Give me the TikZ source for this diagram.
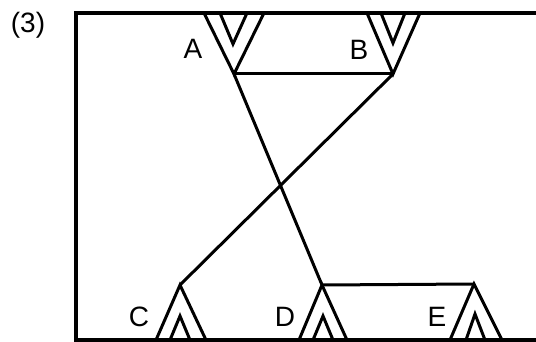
\documentclass[tikz,border=0pt]{standalone}
\usepackage{fontspec}
\setmainfont{Liberation Sans}
\usetikzlibrary{positioning}
\tikzset{
  frame/.style={line width=3.5pt},
  wedge/.style={line width=3pt, line join=miter},
  link/.style={line width=3pt},
  lbl/.style={font=\fontsize{28}{30}\selectfont, inner sep=0pt},
}

\begin{document}
\begin{tikzpicture}[x=1pt, y=-1pt]
  \useasboundingbox (0,0) rectangle (536,342);
  \node[lbl] (num) at (28,25) {(3)};
  \draw[frame] (536,13) -- (76,13) -- (76,340) -- (536,340);
  % apex points
  \coordinate (a) at (234,74);
  \coordinate (b) at (393,74);
  \coordinate (c) at (180,285);
  \coordinate (d) at (322,285);
  \coordinate (e) at (474,284);
  % top wedges
  \draw[wedge] (204,13) -- (a) -- (264,13);
  \draw[wedge] (220,13) -- (233,44) -- (247,13);
  \draw[wedge] (367,13) -- (b) -- (420,13);
  \draw[wedge] (381,13) -- (393,43) -- (405,13);
  % bottom wedges
  \draw[wedge] (156,340) -- (c) -- (206,340);
  \draw[wedge] (170,340) -- (180,316) -- (190,340);
  \draw[wedge] (299,340) -- (d) -- (347,340);
  \draw[wedge] (313,340) -- (323,316) -- (333,340);
  \draw[wedge] (450,340) -- (e) -- (502,340);
  \draw[wedge] (466,340) -- (475,314) -- (485,340);
  % links
  \draw[link] (a) -- (b);
  \draw[link] (d) -- (e);
  \draw[link] (a) -- (d);
  \draw[link] (b) -- (c);
  % labels
  \node[lbl] (la) at (193,49) {A};
  \node[lbl] (lb) at (359,50) {B};
  \node[lbl] (lc) at (139,317) {C};
  \node[lbl] (ld) at (285,317) {D};
  \node[lbl] (le) at (437,317) {E};
\end{tikzpicture}
\end{document}
